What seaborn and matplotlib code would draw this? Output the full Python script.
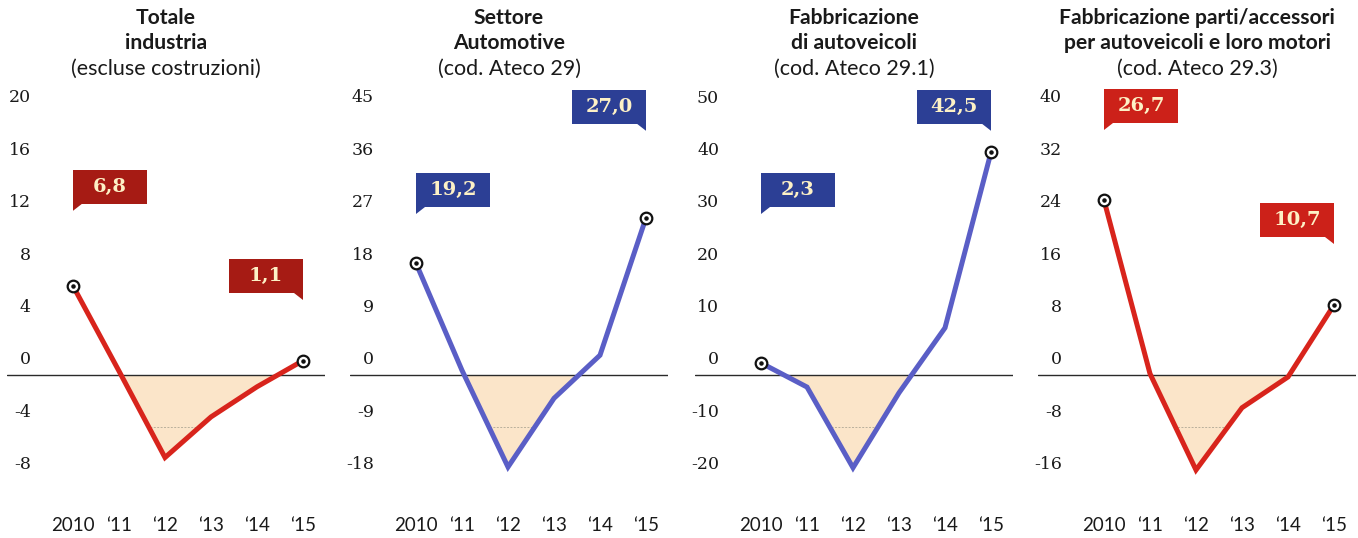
"""
Produzione industriale: variazioni % annue 2010-2015, quattro pannelli.
"""
import numpy as np
import pandas as pd
import matplotlib
matplotlib.use('Agg')
import matplotlib.pyplot as plt
import matplotlib.transforms as mtransforms
from matplotlib.patches import Rectangle, Polygon
import seaborn as sns

YEARS = ['2010', '\u201811', '\u201812', '\u201813', '\u201814', '\u201815']

TOTALE = [6.8, 0.3, -6.3, -3.2, -0.9, 1.1]
AUTOMOTIVE = [19.2, 0.8, -15.8, -4.0, 3.4, 27.0]
AUTOVEICOLI = [2.3, -2.3, -17.7, -3.4, 9.0, 42.5]
PARTI = [26.7, 0.2, -14.5, -5.0, -0.3, 10.7]

TITLES = [
    ['Totale', 'industria', '(escluse costruzioni)'],
    ['Settore', 'Automotive', '(cod. Ateco 29)'],
    ['Fabbricazione', 'di autoveicoli', '(cod. Ateco 29.1)'],
    ['Fabbricazione parti/accessori', 'per autoveicoli e loro motori', '(cod. Ateco 29.3)'],
]
TICK_STEPS = [4, 9, 10, 8]

RED = '#d8241c'
BLUE = '#5a5ec6'
LINE_COLORS = [RED, BLUE, BLUE, RED]
BOX_COLORS = ['#a61b14', '#2c3f95', '#2c3f95', '#cc2119']
TEXT_BOX = '#fdf1c6'
FILL = '#fbe5c9'

# vertical position of the two value boxes (axes fraction)
BOX_Y = [(0.783, 0.56), (0.775, 0.983), (0.775, 0.983), (0.985, 0.70)]

W, H = 1358, 538
PANEL_LEFT = [7, 350, 695, 1038]
PANEL_W = 318
AX_TOP, AX_BOTTOM = 100, 500
XSPACE = 46.0

sns.set_theme(style='white')
plt.rcParams['font.family'] = ['Lato', 'DejaVu Sans']

fig = plt.figure(figsize=(W / 100, H / 100), dpi=100)

series = [TOTALE, AUTOMOTIVE, AUTOVEICOLI, PARTI]

for i, values in enumerate(series):
    ax = fig.add_axes([PANEL_LEFT[i] / W, (H - AX_BOTTOM) / H,
                       PANEL_W / W, (AX_BOTTOM - AX_TOP) / H])
    step = TICK_STEPS[i]
    px_per_unit = 52.4 / step
    zero_px = 375
    ax.set_ylim(-(AX_BOTTOM - zero_px) / px_per_unit, (zero_px - AX_TOP) / px_per_unit)
    ax.set_xlim(-66 / XSPACE, 5 + 22 / XSPACE)

    df = pd.DataFrame({'x': np.arange(len(YEARS)), 'y': values})

    # negative area
    coll = ax.fill_between(df['x'], df['y'], 0, where=df['y'] < 0,
                           interpolate=True, color=FILL, lw=0, zorder=1)
    paths = coll.get_paths()
    ticks = np.arange(-2 * step, 5 * step + 1, step)
    for t in ticks:
        if t < 0 and len(paths) > 0:
            gl = ax.axhline(t, color='#b9b09c', lw=0.7, ls=(0, (2, 1.5)), zorder=2)
            gl.set_clip_path(paths[0], transform=ax.transData)

    ax.axhline(0, color='#2a2a2a', lw=1.0, zorder=3)

    sns.lineplot(data=df, x='x', y='y', ax=ax, color=LINE_COLORS[i],
                 lw=3.6, zorder=4, solid_joinstyle='miter')

    ends = df.iloc[[0, -1]]
    ax.scatter(ends['x'], ends['y'], s=70, facecolor='white', edgecolor='#111111',
               lw=1.6, zorder=5)
    ax.scatter(ends['x'], ends['y'], s=5, color='#111111', zorder=6)

    # y tick labels sit above their lines
    trans = mtransforms.blended_transform_factory(ax.transAxes, ax.transData)
    trans = trans + mtransforms.ScaledTranslation(0, 15 / 100, fig.dpi_scale_trans)
    for t in ticks:
        ax.text(24 / PANEL_W, t, f'{t:d}', transform=trans, ha='right', va='center',
                family='DejaVu Serif', fontsize=12.5, color='#1a1a1a')
    ax.set_yticks([])

    ax.set_xticks(df['x'], YEARS)
    ax.tick_params(axis='x', length=0, pad=12, labelsize=13.5, labelcolor='#1a1a1a')
    ax.set_xlabel('')
    ax.set_ylabel('')
    sns.despine(ax=ax, left=True, bottom=True)

    # titles
    t1, t2, t3 = TITLES[i]
    ax.text(0.5, (AX_BOTTOM - 18) / 400, t1, transform=ax.transAxes, ha='center',
            va='center', fontsize=15.2, fontweight='bold', color='#1a1a1a')
    ax.text(0.5, (AX_BOTTOM - 43) / 400, t2, transform=ax.transAxes, ha='center',
            va='center', fontsize=15.2, fontweight='bold', color='#1a1a1a')
    ax.text(0.5, (AX_BOTTOM - 69) / 400, t3, transform=ax.transAxes, ha='center',
            va='center', fontsize=15.5, color='#1a1a1a')

    # value boxes for first and last year
    btrans = mtransforms.blended_transform_factory(ax.transData, ax.transAxes)
    bw = 74 / XSPACE
    bh = 34 / 400
    tail_w = 9 / XSPACE
    tail_h = 7 / 400
    for k, idx in enumerate([0, len(values) - 1]):
        yc = BOX_Y[i][k]
        if k == 0:
            x0 = df['x'].iloc[idx]
            tail = [(x0, yc - bh / 2), (x0 + tail_w, yc - bh / 2), (x0, yc - bh / 2 - tail_h)]
        else:
            x0 = df['x'].iloc[idx] - bw
            xr = df['x'].iloc[idx]
            tail = [(xr, yc - bh / 2), (xr - tail_w, yc - bh / 2), (xr, yc - bh / 2 - tail_h)]
        ax.add_patch(Rectangle((x0, yc - bh / 2), bw, bh, transform=btrans,
                               facecolor=BOX_COLORS[i], edgecolor='none',
                               clip_on=False, zorder=7))
        ax.add_patch(Polygon(tail, closed=True, transform=btrans,
                             facecolor=BOX_COLORS[i], edgecolor='none',
                             clip_on=False, zorder=7))
        label = f'{values[idx]:.1f}'.replace('.', ',')
        ax.text(x0 + bw / 2, yc, label, transform=btrans, ha='center', va='center',
                family='DejaVu Serif', fontweight='bold', fontsize=14,
                color=TEXT_BOX, zorder=8)

fig.savefig('out.png', dpi=100, facecolor='white')
